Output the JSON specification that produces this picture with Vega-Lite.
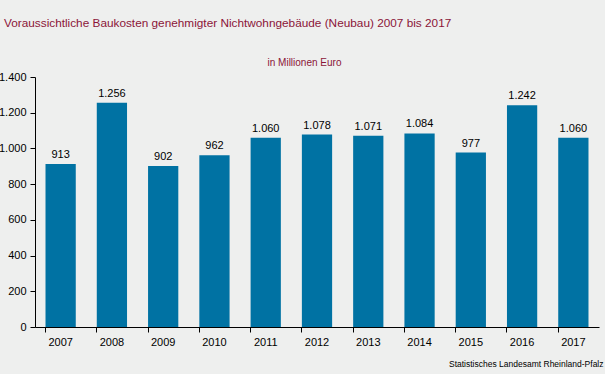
{
  "$schema": "https://vega.github.io/schema/vega-lite/v6.json",
  "width": 564,
  "height": 250,
  "autosize": "none",
  "padding": {"left": 35, "top": 77, "right": 6, "bottom": 47},
  "background": "#eeefee",
  "title": {
    "text": "Voraussichtliche Baukosten genehmigter Nichtwohngebäude (Neubau)  2007 bis  2017",
    "anchor": "start",
    "frame": "group",
    "dx": -31,
    "dy": -23,
    "font": "Liberation Sans",
    "fontSize": 11.8,
    "fontWeight": "normal",
    "color": "#8b1538"
  },
  "config": {
    "locale": {"number": {"decimal": ",", "thousands": ".", "grouping": [3], "currency": ["", " €"]}},
    "view": {"stroke": null},
    "font": "Liberation Sans",
    "axis": {
      "domainColor": "#000000",
      "tickColor": "#000000",
      "labelColor": "#000000",
      "labelFont": "Liberation Sans",
      "labelFontSize": 11,
      "grid": false,
      "tickSize": 5
    }
  },
  "data": {
    "values": [
      {"Jahr": "2007", "Wert": 913},
      {"Jahr": "2008", "Wert": 1256},
      {"Jahr": "2009", "Wert": 902},
      {"Jahr": "2010", "Wert": 962},
      {"Jahr": "2011", "Wert": 1060},
      {"Jahr": "2012", "Wert": 1078},
      {"Jahr": "2013", "Wert": 1071},
      {"Jahr": "2014", "Wert": 1084},
      {"Jahr": "2015", "Wert": 977},
      {"Jahr": "2016", "Wert": 1242},
      {"Jahr": "2017", "Wert": 1060}
    ]
  },
  "encoding": {
    "x": {
      "field": "Jahr",
      "type": "ordinal",
      "scale": {"paddingInner": 0.41, "paddingOuter": 0.205},
      "axis": {
        "title": "Statistisches Landesamt Rheinland-Pfalz",
        "titleFont": "Liberation Sans",
        "titleFontSize": 8.5,
        "titleFontWeight": "normal",
        "titleColor": "#000000",
        "titleAnchor": null,
        "titleAlign": "right",
        "titleBaseline": "middle",
        "titleX": 568,
        "titleY": 36,
        "labelAngle": 0,
        "labelPadding": 4,
        "bandPosition": 0
      }
    },
    "y": {
      "field": "Wert",
      "type": "quantitative",
      "scale": {"domain": [0, 1400]},
      "axis": {
        "values": [0, 200, 400, 600, 800, 1000, 1200, 1400],
        "format": ",d",
        "labelPadding": 4,
        "title": "in Millionen Euro",
        "titleFont": "Liberation Sans",
        "titleFontSize": 10,
        "titleFontWeight": "normal",
        "titleColor": "#8b1538",
        "titleAngle": 0,
        "titleAlign": "center",
        "titleBaseline": "middle",
        "titleX": 269,
        "titleY": -15
      }
    }
  },
  "layer": [
    {"mark": {"type": "bar", "color": "#0072a3"}},
    {
      "mark": {"type": "text", "dy": -4, "fontSize": 11, "color": "#000000", "baseline": "bottom"},
      "encoding": {"text": {"field": "Wert", "type": "quantitative", "format": ",d"}}
    }
  ]
}
